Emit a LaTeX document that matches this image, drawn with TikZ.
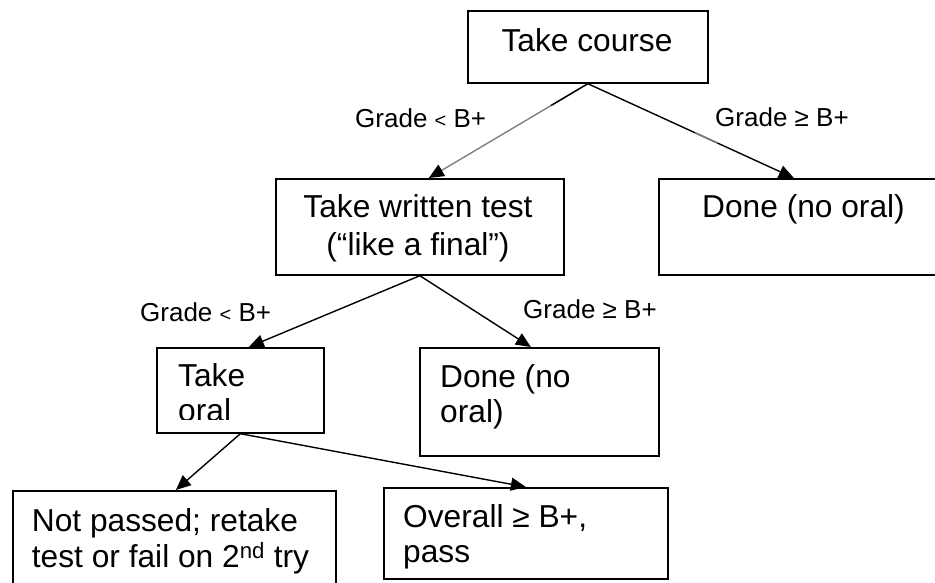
\documentclass[tikz,border=0pt]{standalone}
\usepackage{fontspec}
\setmainfont{Liberation Sans}
\usetikzlibrary{arrows.meta,calc}
\definecolor{midgray}{RGB}{128,128,128}
\begin{document}
\begin{tikzpicture}[x=1pt,y=-1pt,
  box/.style={draw=black,line width=1.7pt,rectangle,inner sep=0pt,anchor=north west},
  txt/.style={font=\fontsize{31.7}{36}\selectfont,inner sep=0pt,anchor=base west},
  ctxt/.style={txt,anchor=base},
  lbl/.style={font=\fontsize{26}{30}\selectfont,inner sep=0pt,anchor=base west},
  arr/.style={line width=1.4pt,-{Triangle[length=15pt,width=13pt,color=black]}},
  seg/.style={line width=1.4pt}]
\useasboundingbox (0,0) rectangle (935,583);
\clip (0,0) rectangle (935,583);
% boxes
\node[box,minimum width=240pt,minimum height=72pt] (tc) at (467,10) {};
\node[box,minimum width=288pt,minimum height=96pt] (wt) at (275,178) {};
\node[box,minimum width=290pt,minimum height=96pt] (d1) at (658,178) {};
\node[box,minimum width=167pt,minimum height=85pt] (or) at (156,347) {};
\node[box,minimum width=239pt,minimum height=108pt] (d2) at (419,347) {};
\node[box,minimum width=323pt,minimum height=110pt] (np) at (12,490) {};
\node[box,minimum width=284pt,minimum height=91pt] (ov) at (383,487) {};
% texts
\node[ctxt] (tct) at (587,52) {Take course};
\node[ctxt] (wt1) at (418,218) {Take written test};
\node[ctxt] (wt2) at (418,255.5) {(“like a final”)};
\node[txt] (d1t) at (702,218) {Done (no oral)};
\begin{scope}
\clip (156,347) rectangle (323,419);
\node[txt] (or1) at (178,386.5) {Take};
\node[txt] (or2) at (178,421.5) {oral};
\end{scope}
\node[txt] (d21) at (440,387) {Done (no};
\node[txt] (d22) at (440,422) {oral)};
\node[txt] (np1) at (31.7,531) {Not passed; retake};
\node[txt] (np2) at (31.7,567.5) {test or fail on 2\textsuperscript{nd} try};
\node[txt] (ov1) at (403,527.5) {Overall ≥ B+,};
\node[txt] (ov2) at (403,562.5) {pass};
% labels
\node[lbl] (l1) at (355,128) {Grade {\fontsize{20}{20}\selectfont <} B+};
\node[lbl] (l2) at (715,127) {Grade ≥ B+};
\node[lbl] (l3) at (140,321) {Grade {\fontsize{20}{20}\selectfont <} B+};
\node[lbl] (l4) at (523,318.5) {Grade ≥ B+};
% connectors
\draw[arr,draw=midgray] (tc.south) -- ([xshift=9pt]wt.north);
\draw[seg,black] (tc.south) -- ($(tc.south)!0.23!([xshift=9pt]wt.north)$);
\draw[arr] (tc.south) -- ([xshift=-10pt]d1.north);
\draw[seg,midgray] ($(tc.south)!0.52!([xshift=-10pt]d1.north)$) -- ($(tc.south)!0.63!([xshift=-10pt]d1.north)$);
\draw[arr] (wt.south) -- ([xshift=8.5pt]or.north);
\draw[arr] (wt.south) -- ([xshift=-8.5pt]d2.north);
\draw[arr] (or.south) -- ([xshift=1.5pt]np.north);
\draw[arr] (or.south) -- (ov.north);
\end{tikzpicture}
\end{document}
